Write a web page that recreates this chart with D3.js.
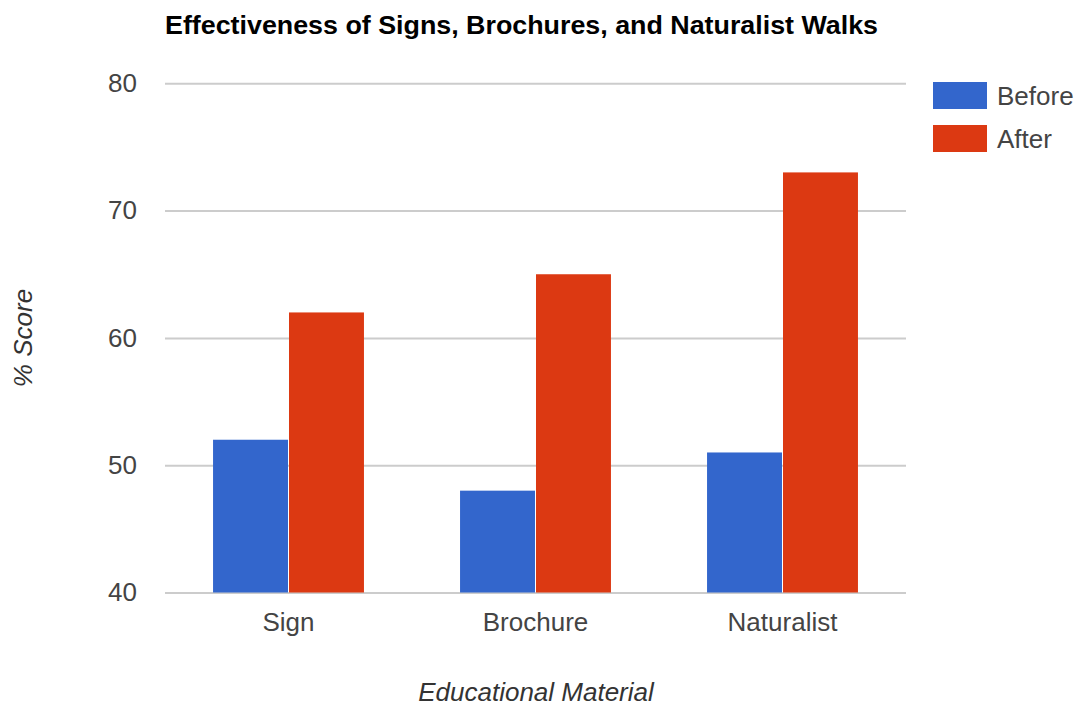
<!DOCTYPE html>
<html><head><meta charset="utf-8">
<script src="https://cdn.jsdelivr.net/npm/d3@7"></script>
<style>body{margin:0;background:#fff;} svg{display:block;}</style>
</head><body>
<svg id="c" width="1081" height="706"></svg>
<script>
const categories = ["Sign", "Brochure", "Naturalist"];
const seriesNames = ["Before", "After"];
const beforeValues = [52, 48, 51];
const afterValues = [62, 65, 73];
const yTicks = [40, 50, 60, 70, 80];
const colors = ["#3366cc", "#dc3912"];
const titleText = "Effectiveness of Signs, Brochures, and Naturalist Walks";
const xTitle = "Educational Material";
const yTitle = "% Score";

(function () {
const svg = d3.select("#c");
const font = "Arial, 'Liberation Sans', sans-serif";
const pLeft = 165, pRight = 906, pTop = 83.3, pBottom = 592.5;

const x0 = d3.scaleBand().domain(categories).range([pLeft, pRight]).paddingInner(0.389).paddingOuter(0.1945);
const x1 = d3.scaleBand().domain(seriesNames).range([0, x0.bandwidth()]).paddingInner(0.0133);
const y = d3.scaleLinear().domain([40, 80]).range([pBottom, pTop]);

// gridlines
const yAxis = d3.axisLeft(y).tickValues(yTicks).tickSize(-(pRight - pLeft)).tickPadding(28);
const gy = svg.append("g").attr("transform", `translate(${pLeft},0)`).call(yAxis);
gy.select(".domain").remove();
gy.selectAll(".tick line").attr("stroke", "#cccccc").attr("stroke-width", 2);
gy.selectAll(".tick text").attr("font-family", font).attr("font-size", 26).attr("fill", "#444");

// bars
const data = categories.map((c, i) => ({cat: c, vals: [beforeValues[i], afterValues[i]]}));
const groups = svg.append("g").selectAll("g").data(data).join("g")
  .attr("transform", d => `translate(${x0(d.cat)},0)`);
groups.selectAll("rect").data(d => d.vals.map((v, j) => ({s: seriesNames[j], v, j})))
  .join("rect")
  .attr("x", d => x1(d.s))
  .attr("width", x1.bandwidth())
  .attr("y", d => y(d.v))
  .attr("height", d => y(40) - y(d.v))
  .attr("fill", d => colors[d.j]);

// x axis labels
const xAxis = d3.axisBottom(x0).tickSize(0).tickPadding(20);
const gx = svg.append("g").attr("transform", `translate(0,${pBottom})`).call(xAxis);
gx.select(".domain").remove();
gx.selectAll(".tick text").attr("font-family", font).attr("font-size", 26).attr("fill", "#444");

// title
const t = svg.append("text").attr("x", pLeft).attr("y", 34)
  .attr("font-family", "'Liberation Sans Narrow', Arial, 'Liberation Sans', sans-serif")
  .attr("font-weight", "bold").attr("font-size", 25).attr("fill", "#000")
  .text(titleText);
const tl = t.node().getComputedTextLength();
if (Math.abs(tl - 713) > 3) t.attr("textLength", 713).attr("lengthAdjust", "spacingAndGlyphs");

// axis titles
svg.append("text").attr("x", 536).attr("y", 701).attr("text-anchor", "middle")
  .attr("font-family", font).attr("font-style", "italic").attr("font-size", 26).attr("fill", "#333")
  .text(xTitle);
svg.append("text").attr("transform", "translate(32,338) rotate(-90)").attr("text-anchor", "middle")
  .attr("font-family", font).attr("font-style", "italic").attr("font-size", 26).attr("fill", "#333")
  .text(yTitle);

// legend
const lg = svg.append("g").selectAll("g").data(seriesNames).join("g")
  .attr("transform", (d, i) => `translate(933,${82 + i * 43})`);
lg.append("rect").attr("width", 54).attr("height", 27).attr("fill", (d, i) => colors[i]);
lg.append("text").attr("x", 64).attr("y", 13.5).attr("dy", "0.35em")
  .attr("font-family", font).attr("font-size", 26).attr("fill", "#444").text(d => d);
})();
</script>
</body></html>
